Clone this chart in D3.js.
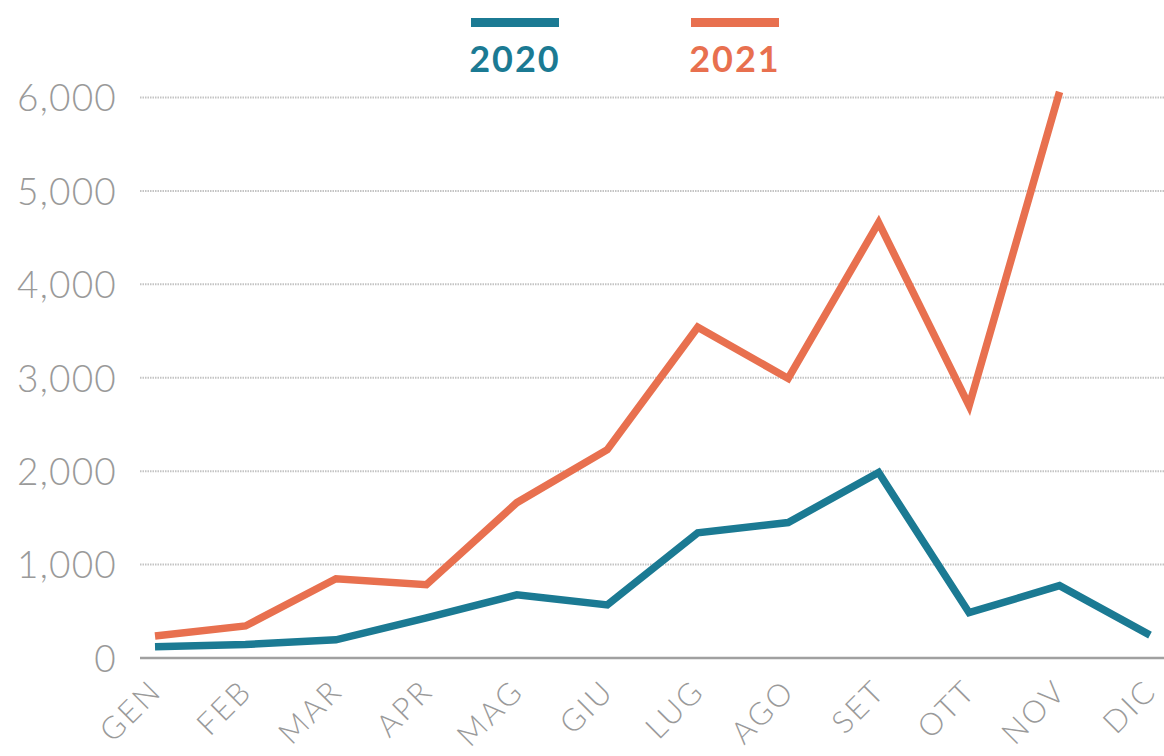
<!DOCTYPE html>
<html>
<head>
<meta charset="utf-8">
<script src="https://cdn.jsdelivr.net/npm/d3@7"></script>
<style>
  html, body { margin: 0; padding: 0; background: #fff; }
  svg text { font-family: Lato, "Open Sans", sans-serif; }
</style>
</head>
<body>
<div id="chart"></div>
<script>
"use strict";

// months (Italian)
var months = ['GEN', 'FEB', 'MAR', 'APR', 'MAG', 'GIU', 'LUG', 'AGO', 'SET', 'OTT', 'NOV', 'DIC'];
var values2020 = [120, 145, 195, 430, 676, 568, 1340, 1450, 1985, 485, 775, 245];
var values2021 = [236, 343, 848, 785, 1663, 2230, 3541, 2993, 4660, 2700, 6060, null];
var yTicks = [0, 1000, 2000, 3000, 4000, 5000, 6000];
var seriesNames = ['2020', '2021'];
var colors = ['#1b7a93', '#e8704f'];

var width = 1164;
var height = 756;

var svg = d3.select('#chart').append('svg')
  .attr('width', width)
  .attr('height', height);

var x = d3.scalePoint().domain(months).range([155, 1150]);
var y = d3.scaleLinear().domain([0, 6000]).range([658, 97.5]);

// y axis labels
var yAxis = d3.axisLeft(y)
  .tickValues(yTicks)
  .tickSize(0)
  .tickPadding(0)
  .tickFormat(d3.format(','));

var gy = svg.append('g')
  .attr('transform', 'translate(117,0)')
  .call(yAxis);
gy.select('.domain').remove();
gy.selectAll('text')
  .attr('fill', '#9a9a9a')
  .attr('font-size', 37)
  .attr('font-weight', 300)
  .attr('letter-spacing', 1.2)
  .attr('dy', '0.36em');

// gridlines
svg.append('g').selectAll('line')
  .data(yTicks.filter(function (d) { return d > 0; }))
  .join('line')
  .attr('x1', 140)
  .attr('x2', width)
  .attr('y1', function (d) { return y(d); })
  .attr('y2', function (d) { return y(d); })
  .attr('stroke', '#c4c4c4')
  .attr('stroke-width', 2)
  .attr('stroke-dasharray', '1.5,1');

// baseline
svg.append('line')
  .attr('x1', 140)
  .attr('x2', width)
  .attr('y1', y(0))
  .attr('y2', y(0))
  .attr('stroke', '#a0a0a0')
  .attr('stroke-width', 2.5);

// month labels
var xAxis = d3.axisBottom(x).tickSize(0).tickPadding(0);
var gx = svg.append('g')
  .attr('transform', 'translate(0,' + y(0) + ')')
  .call(xAxis);
gx.select('.domain').remove();
gx.selectAll('text')
  .attr('fill', '#9a9a9a')
  .attr('font-size', 31)
  .attr('font-weight', 300)
  .attr('letter-spacing', 2.5)
  .attr('text-anchor', 'end')
  .attr('dy', 0)
  .attr('transform', 'translate(8,35) rotate(-45)');

// lines
var line = d3.line()
  .defined(function (d) { return d != null; })
  .x(function (d, i) { return x(months[i]); })
  .y(function (d) { return y(d); });

[values2020, values2021].forEach(function (vals, k) {
  svg.append('path')
    .datum(vals)
    .attr('fill', 'none')
    .attr('stroke', colors[k])
    .attr('stroke-width', 7.5)
    .attr('stroke-linejoin', 'miter')
    .attr('d', line);
});

// legend
var legendX = [515, 735];
seriesNames.forEach(function (name, k) {
  var g = svg.append('g').attr('transform', 'translate(' + legendX[k] + ',0)');
  g.append('rect')
    .attr('x', -44)
    .attr('y', 18)
    .attr('width', 88)
    .attr('height', 9)
    .attr('fill', colors[k]);
  g.append('text')
    .attr('x', 0)
    .attr('y', 72)
    .attr('text-anchor', 'middle')
    .attr('fill', colors[k])
    .attr('font-size', 36)
    .attr('font-weight', 700)
    .attr('letter-spacing', 2)
    .text(name);
});
</script>
</body>
</html>
